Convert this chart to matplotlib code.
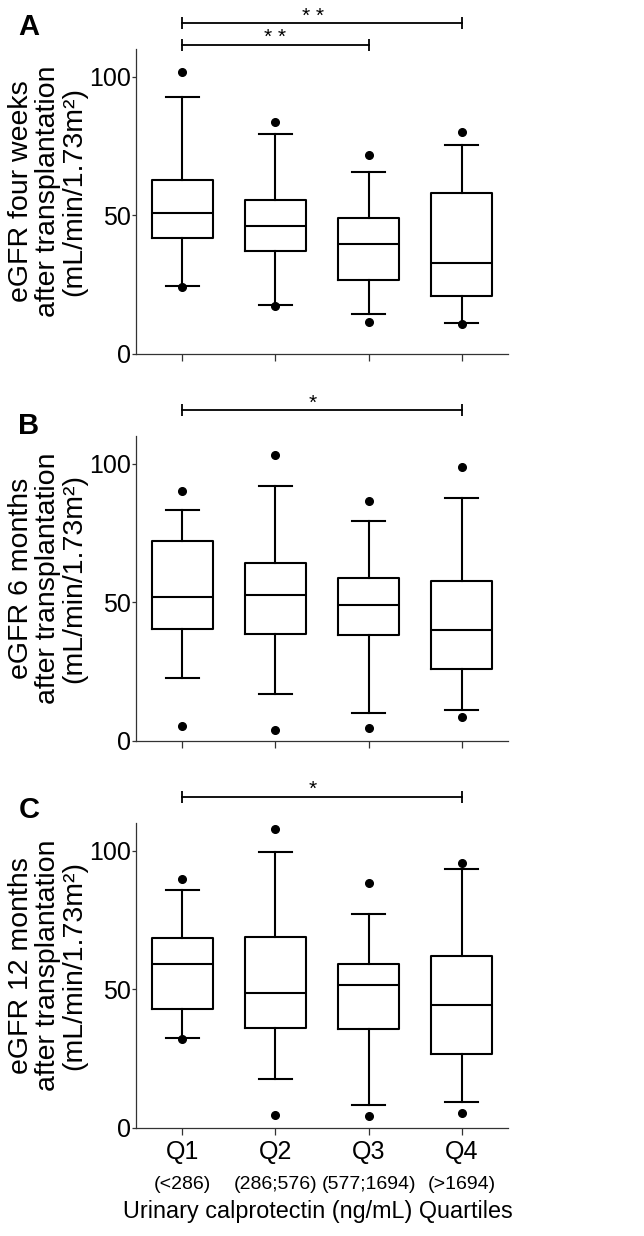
import matplotlib
matplotlib.use("Agg")
import matplotlib.pyplot as plt
from matplotlib import transforms

plt.rcParams['font.family'] = ['Liberation Sans', 'DejaVu Sans']

# =========================
# DATA
# =========================
groups = ["Q1", "Q2", "Q3", "Q4"]
ranges = ["(<286)", "(286;576)", "(577;1694)", "(>1694)"]

# A - four weeks
a_med = [50.7, 46.2, 39.6, 32.7]
a_q1 = [41.8, 37.1, 26.6, 20.8]
a_q3 = [62.9, 55.4, 49.2, 58.1]
a_lo = [24.6, 17.8, 14.3, 11.3]
a_hi = [92.8, 79.4, 65.5, 75.4]
a_out = [[101.6, 24.1], [83.6, 17.4], [71.9, 11.4], [79.9, 10.9]]
# (from group, to group, bar height, label, label x)
a_sig = [(0, 3, 119.2, "* *", 1.4), (0, 2, 111.6, "* *", 1.0)]

# B - 6 months
b_med = [52.0, 52.8, 49.0, 40.1]
b_q1 = [40.5, 38.5, 38.2, 26.1]
b_q3 = [72.0, 64.2, 58.7, 57.6]
b_lo = [22.7, 16.8, 10.2, 11.1]
b_hi = [83.2, 91.9, 79.4, 87.7]
b_out = [[90.0, 5.4], [103.2, 4.1], [86.7, 4.7], [98.8, 8.7]]
b_sig = [(0, 3, 119.2, "*", 1.4)]

# C - 12 months
c_med = [59.2, 48.5, 51.4, 44.2]
c_q1 = [42.8, 36.0, 35.6, 26.8]
c_q3 = [68.6, 68.8, 59.0, 62.1]
c_lo = [32.6, 17.7, 8.2, 9.4]
c_hi = [85.8, 99.6, 77.3, 93.5]
c_out = [[89.8, 32.1], [107.8, 4.6], [88.3, 4.3], [95.7, 5.5]]
c_sig = [(0, 3, 119.5, "*", 1.4)]

panels = [
    ("A", "eGFR four weeks\nafter transplantation\n(mL/min/1.73m²)",
     a_med, a_q1, a_q3, a_lo, a_hi, a_out, a_sig),
    ("B", "eGFR 6 months\nafter transplantation\n(mL/min/1.73m²)",
     b_med, b_q1, b_q3, b_lo, b_hi, b_out, b_sig),
    ("C", "eGFR 12 months\nafter transplantation\n(mL/min/1.73m²)",
     c_med, c_q1, c_q3, c_lo, c_hi, c_out, c_sig),
]

# axes bottoms (figure fraction)
bottoms = [0.7136, 0.4005, 0.0874]
letter_y = [1 - 27 / 1236, 1 - 426 / 1236, 1 - 810 / 1236]

fig = plt.figure(figsize=(6.44, 12.36), dpi=100)

line_kw = dict(color='black', linewidth=1.5)

for k, (letter, ylabel, med, q1, q3, lo, hi, out, sig) in enumerate(panels):
    ax = fig.add_axes([0.211, bottoms[k], 0.578, 0.2468])
    stats = []
    for i in range(len(groups)):
        stats.append(dict(med=med[i], q1=q1[i], q3=q3[i],
                          whislo=lo[i], whishi=hi[i], fliers=out[i]))
    ax.bxp(stats, positions=range(len(groups)), widths=0.66, capwidths=0.36,
           boxprops=line_kw, whiskerprops=line_kw, capprops=line_kw,
           medianprops=line_kw,
           flierprops=dict(marker='o', markerfacecolor='black',
                           markeredgecolor='black', markersize=5.5))
    ax.set_xlim(-0.5, 3.5)
    ax.set_ylim(0, 110)
    ax.set_yticks([0, 50, 100])
    ax.set_xticks(range(len(groups)))
    for side in ('top', 'right'):
        ax.spines[side].set_visible(False)
    for side in ('left', 'bottom'):
        ax.spines[side].set_color('#333333')
        ax.spines[side].set_linewidth(0.9)
    ax.tick_params(axis='y', length=3, width=0.9, pad=0.5, color='#333333',
                   labelsize=18)
    ax.tick_params(axis='x', length=5, width=0.9, color='#333333')

    if k == 2:
        ax.set_xticklabels(groups, fontsize=18)
        ax.tick_params(axis='x', pad=4)
        tr = transforms.blended_transform_factory(ax.transData, ax.transAxes)
        for i, r in enumerate(ranges):
            ax.text(i, -0.185, r, transform=tr, ha='center', va='center',
                    fontsize=14)
        ax.text(0.49, -0.275, "Urinary calprotectin (ng/mL) Quartiles",
                transform=ax.transAxes, ha='center', va='center',
                fontsize=16.8)
    else:
        ax.set_xticklabels([])

    ax.text(-0.237, 0.534, ylabel, transform=ax.transAxes, rotation=90,
            ha='center', va='center', multialignment='center', fontsize=20.5,
            linespacing=1.04)

    fig.text(29 / 644, letter_y[k], letter, fontsize=21, fontweight='bold',
             ha='center', va='center')

    for x0, x1, yb, stars, sx in sig:
        ax.plot([x0, x1], [yb, yb], color='black', linewidth=1.3,
                marker='|', markersize=9, markeredgewidth=1.3, clip_on=False)
        ax.text(sx, yb - 0.8, stars, ha='center', va='bottom', fontsize=15)

fig.savefig("out.png", dpi=100)
